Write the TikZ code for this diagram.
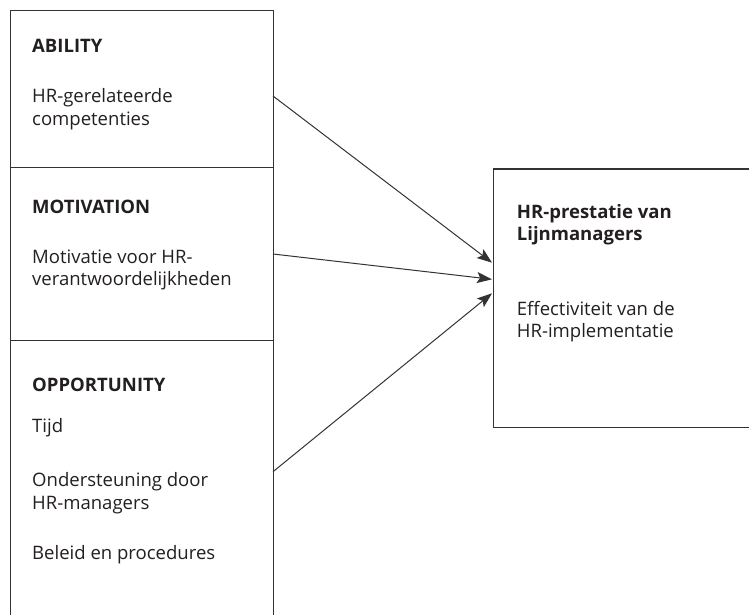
\documentclass[tikz,border=0pt]{standalone}
\usepackage{fontspec}
\setmainfont{Open Sans}
\usetikzlibrary{arrows.meta}
\definecolor{ln}{HTML}{333333}
\definecolor{tx}{HTML}{231F20}
\tikzset{
  boxnode/.style={draw=ln, line width=1.2bp, rectangle, inner sep=0pt, anchor=north west},
  txt/.style={anchor=base west, inner sep=0pt, text=tx, font=\fontsize{18.6}{22}\selectfont},
  ttl/.style={txt, font=\fontsize{18.6}{22}\selectfont\bfseries},
  arr/.style={draw=ln, line width=1bp, -{Stealth[length=15bp,width=11bp,inset=3bp]}}
}
\begin{document}
\begin{tikzpicture}[x=1bp,y=-1bp]
\useasboundingbox (0,0) rectangle (749,615);
\clip (0,0) rectangle (749,615);
% boxes
\node[boxnode, minimum width=263bp, minimum height=157bp] (ability) at (10,10) {};
\node[boxnode, minimum width=263bp, minimum height=173bp] (motivation) at (10,167) {};
\node[boxnode, minimum width=263bp, minimum height=300bp] (opportunity) at (10,340) {};
\node[boxnode, minimum width=280bp, minimum height=258bp] (outcome) at (493,168.5) {};
% texts
\node[ttl] (t1) at (32,53) {ABILITY};
\node[txt] (a1) at (32,103) {HR-gerelateerde};
\node[txt] (a2) at (32,125.3) {competenties};
\node[ttl] (t2) at (32,214) {MOTIVATION};
\node[txt] (m1) at (32,263) {Motivatie voor HR-};
\node[txt] (m2) at (32,285.3) {verantwoordelijkheden};
\node[ttl] (t3) at (32,391.7) {OPPORTUNITY};
\node[txt] (o1) at (32,432.7) {Tijd};
\node[txt] (o2) at (32,486.7) {Ondersteuning door};
\node[txt] (o3) at (32,509.5) {HR-managers};
\node[txt] (o4) at (32,559) {Beleid en procedures};
\node[ttl] (r1) at (516.7,218.3) {HR-prestatie van};
\node[ttl] (r2) at (516.7,240.7) {Lijnmanagers};
\node[txt] (r3) at (516.7,315) {Effectiviteit van de};
\node[txt] (r4) at (516.7,337) {HR-implementatie};
% connector end points
\coordinate (s1) at (273,96);
\coordinate (s2) at (273,254);
\coordinate (s3) at (273,471.7);
\coordinate (e1) at (492,262.7);
\coordinate (e2) at (492,279.3);
\coordinate (e3) at (492,293.3);
\draw[arr] (s1) -- (e1);
\draw[arr] (s2) -- (e2);
\draw[arr] (s3) -- (e3);
\end{tikzpicture}
\end{document}
